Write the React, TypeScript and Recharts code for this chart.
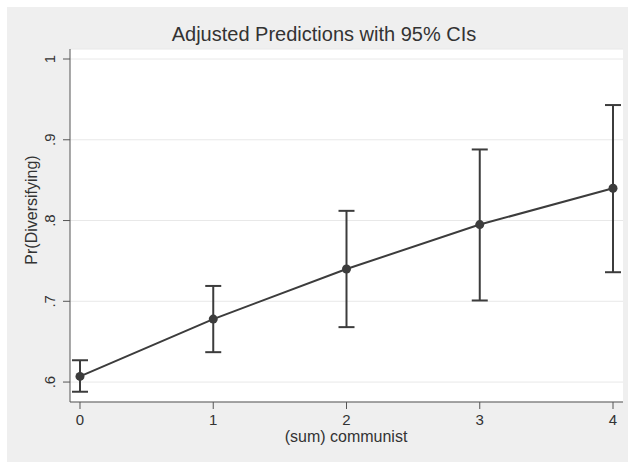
import React from "react";
import {
  ComposedChart,
  Line,
  XAxis,
  YAxis,
  CartesianGrid,
  ErrorBar,
} from "recharts";

const communist = [0, 1, 2, 3, 4];
const predicted = [0.607, 0.678, 0.74, 0.795, 0.84];
const lowerCI = [0.588, 0.637, 0.668, 0.701, 0.736];
const upperCI = [0.627, 0.719, 0.812, 0.888, 0.943];
const yTicks = [0.6, 0.7, 0.8, 0.9, 1];
const xTicks = [0, 1, 2, 3, 4];

const data = communist.map((x, i) => ({
  x,
  pr: predicted[i],
  ci: [predicted[i] - lowerCI[i], upperCI[i] - predicted[i]],
}));

const FONT = '"Liberation Sans", Arial, Helvetica, sans-serif';
const INK = "#3c3c3c";

const fmtY = (v: number) => (v === 1 ? "1" : String(v).replace(/^0/, ""));

// Stata-style rotated y tick labels
const YTick = (props: any) => {
  const { x, y, payload } = props;
  const tx = x - 6;
  return (
    <text
      x={tx}
      y={y}
      transform={`rotate(-90, ${tx}, ${y})`}
      textAnchor="middle"
      fontSize={15}
      fontFamily={FONT}
      fill="#333"
    >
      {fmtY(payload.value)}
    </text>
  );
};

export default function App() {
  return (
    <div
      style={{
        position: "absolute",
        left: 0,
        top: 0,
        width: 628,
        height: 462,
        background: "#fff",
        fontFamily: FONT,
      }}
    >
      <div
        style={{
          position: "absolute",
          left: 7,
          top: 7,
          width: 621,
          height: 455,
          background: "#efefef",
        }}
      />
      <div
        style={{
          position: "absolute",
          left: 0,
          width: 648,
          top: 23,
          textAlign: "center",
          fontSize: 20,
          color: "#333",
          whiteSpace: "nowrap",
        }}
      >
        Adjusted Predictions with 95% CIs
      </div>
      <div
        style={{
          position: "absolute",
          left: 32,
          top: 210,
          transform: "translate(-50%, -50%) rotate(-90deg)",
          fontSize: 16,
          color: "#333",
          whiteSpace: "nowrap",
        }}
      >
        Pr(Diversifying)
      </div>
      <div
        style={{
          position: "absolute",
          left: 346,
          top: 428,
          transform: "translateX(-50%)",
          fontSize: 16,
          lineHeight: "18px",
          color: "#333",
          whiteSpace: "nowrap",
        }}
      >
        (sum) communist
      </div>
      <div style={{ position: "absolute", left: 0, top: 0 }}>
        <ComposedChart
          width={628}
          height={462}
          data={data}
          margin={{ top: 49, right: 5, bottom: 30, left: 0 }}
        >
          <CartesianGrid
            vertical={false}
            stroke="#e8e8e8"
            fill="#ffffff"
            fillOpacity={1}
          />
          <XAxis
            dataKey="x"
            type="number"
            height={30}
            domain={[-0.075, 4.075]}
            ticks={xTicks}
            allowDataOverflow
            stroke="#555"
            tickSize={7}
            tick={{ fontSize: 15, fontFamily: FONT, fill: "#333" }}
            tickMargin={5}
          />
          <YAxis
            type="number"
            domain={[0.5753, 1.0124]}
            ticks={yTicks}
            allowDataOverflow
            width={70}
            stroke="#555"
            tickSize={7}
            tick={<YTick />}
          />
          <Line
            dataKey="pr"
            type="linear"
            stroke={INK}
            strokeWidth={2}
            dot={{ r: 4.5, fill: INK, stroke: INK, strokeWidth: 0 }}
            activeDot={false}
            isAnimationActive={false}
          >
            <ErrorBar
              dataKey="ci"
              direction="y"
              width={8}
              stroke={INK}
              strokeWidth={2}
              isAnimationActive={false}
            />
          </Line>
        </ComposedChart>
      </div>
    </div>
  );
}
